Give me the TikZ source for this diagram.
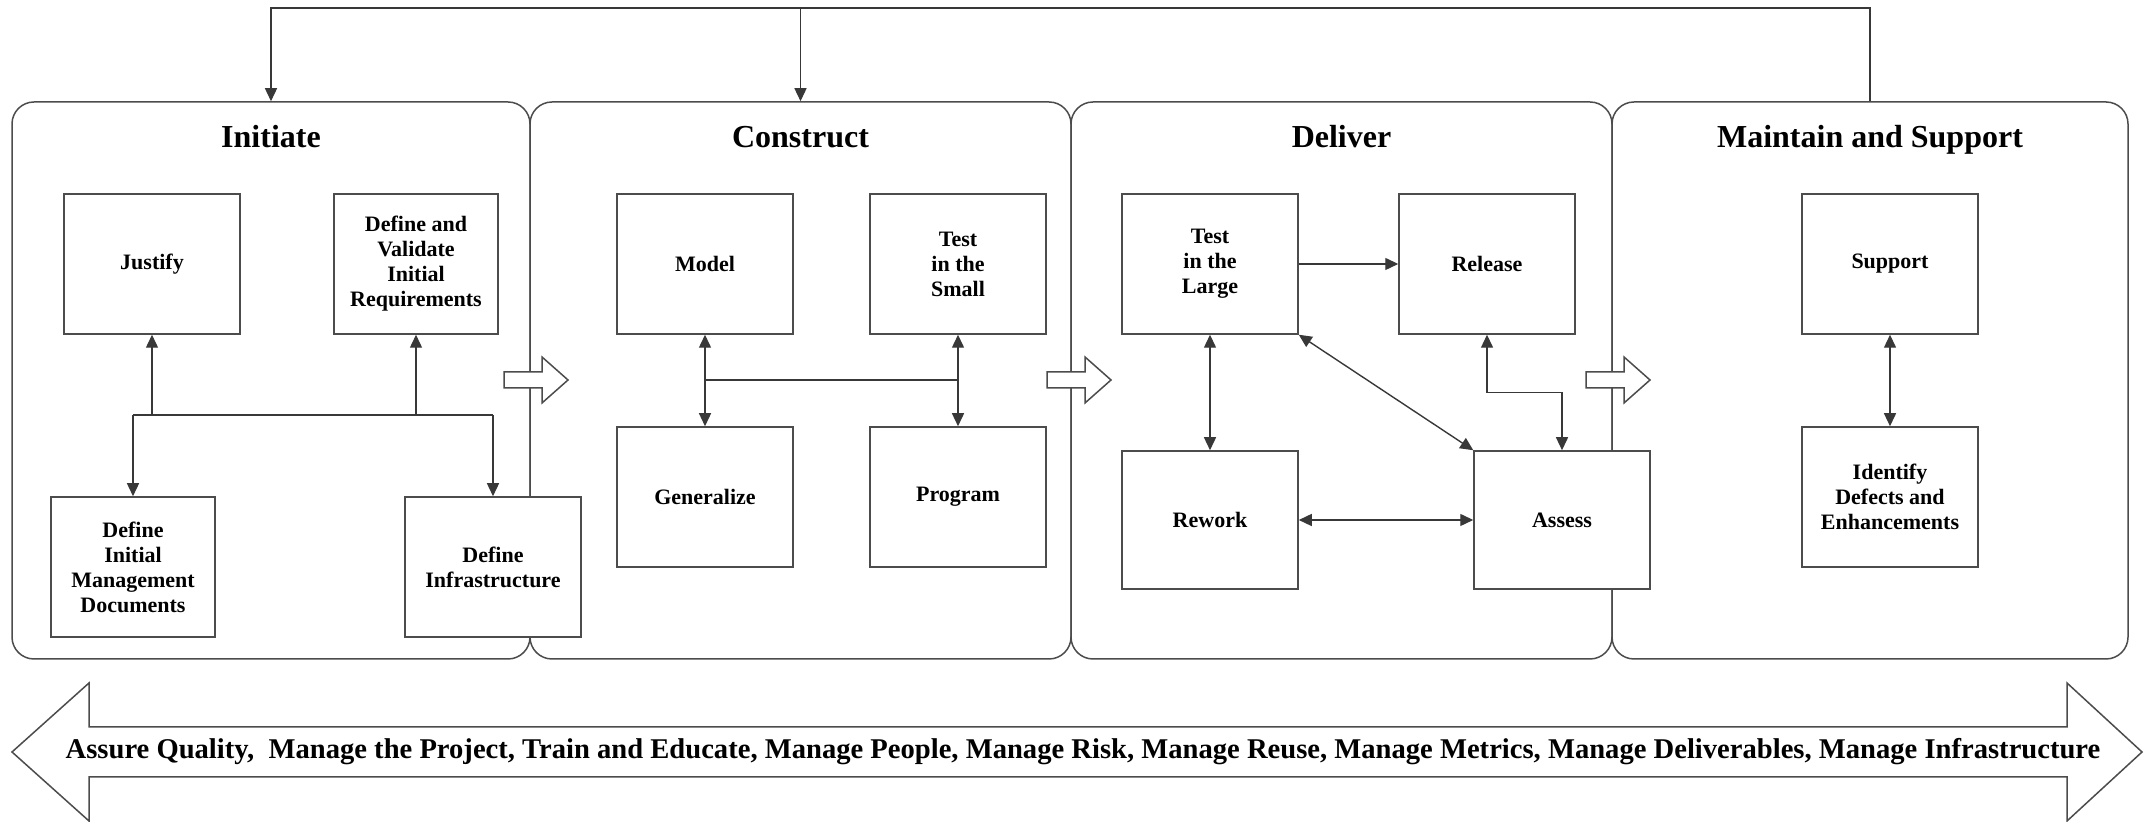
\documentclass[tikz,border=0pt]{standalone}
\usepackage{fontspec}
\setmainfont{Liberation Serif}
\usetikzlibrary{arrows.meta}
\begin{document}
\begin{tikzpicture}[x=0.5pt,y=0.5pt,
  ln/.style={draw=black!70, line width=0.75pt},
  phase/.style={ln, rounded corners=11pt, minimum height=278.5pt, inner sep=0pt},
  box/.style={ln, fill=white, minimum width=88pt, minimum height=70pt, inner sep=2pt, align=center, font=\fontsize{11}{12.5}\selectfont\bfseries},
  ttl/.style={font=\fontsize{16}{19}\selectfont\bfseries, anchor=base},
  con/.style={draw=black!78, line width=0.7pt},
  tip/.style={-{Triangle[length=6.5pt,width=6pt]}},
  dtip/.style={{Triangle[length=6.5pt,width=6pt]}-{Triangle[length=6.5pt,width=6pt]}},
  blk/.style={ln, fill=white, line join=miter}
]
\useasboundingbox (0,0) rectangle (2145,822);

% phase boxes
\node[phase, minimum width=259pt]   (pI) at (271,441.5) {};
\node[phase, minimum width=270.5pt] (pC) at (800.5,441.5) {};
\node[phase, minimum width=270.5pt] (pD) at (1341.5,441.5) {};
\node[phase, minimum width=258pt]   (pM) at (1870,441.5) {};

\node[ttl] (tI) at (271,674) {Initiate};
\node[ttl] (tC) at (800.5,674) {Construct};
\node[ttl] (tD) at (1341.5,674) {Deliver};
\node[ttl] (tM) at (1870,674) {Maintain and Support};

% hollow block arrows between phases
\draw[blk] (504,434) -- (542,434) -- (542,419) -- (568,442) -- (542,465) -- (542,450) -- (504,450) -- cycle;
\draw[blk] (1047,434) -- (1085,434) -- (1085,419) -- (1111,442) -- (1085,465) -- (1085,450) -- (1047,450) -- cycle;
\draw[blk] (1586,434) -- (1624,434) -- (1624,419) -- (1650,442) -- (1624,465) -- (1624,450) -- (1586,450) -- cycle;

% inner boxes
\node[box] (Justify) at (152,558) {Justify};
\node[box, minimum width=82pt] (DVIR) at (416,558) {Define and\\Validate\\Initial\\Requirements};
\node[box, minimum width=82pt] (DIMD) at (133,255) {Define\\Initial\\Management\\Documents};
\node[box] (DI) at (493,255) {Define\\Infrastructure};

\node[box] (Model) at (705,558) {Model};
\node[box] (TitS) at (958,558) {Test\\in the\\Small};
\node[box] (Generalize) at (705,325) {Generalize};
\node[box] (Program) at (958,325) {Program};

\node[box] (TitL) at (1210,558) {Test\\in the\\Large};
\node[box] (Release) at (1487,558) {Release};
\node[box, minimum height=69pt] (Rework) at (1210,302) {Rework};
\node[box, minimum height=69pt] (Assess) at (1562,302) {Assess};

\node[box] (Support) at (1890,558) {Support};
\node[box] (Identify) at (1890,325) {Identify\\Defects and\\Enhancements};

% Initiate connectors
\coordinate (jIL) at (133,407);
\coordinate (jIR) at (493,407);
\draw[con,tip] (Justify.south |- jIL) -- (Justify.south);
\draw[con,tip] (DVIR.south |- jIL) -- (DVIR.south);
\draw[con] (jIL) -- (jIR);
\draw[con,tip] (jIL) -- (DIMD.north);
\draw[con,tip] (jIR) -- (DI.north);

% Construct connectors
\coordinate (jC) at (0,442);
\draw[con,dtip] (Model.south) -- (Generalize.north);
\draw[con,dtip] (TitS.south) -- (Program.north);
\draw[con] (Model.south |- jC) -- (TitS.south |- jC);

% Deliver connectors
\draw[con,tip] (TitL.east) -- (Release.west);
\draw[con,dtip] (TitL.south) -- (Rework.north);
\draw[con,dtip] (TitL.south east) -- (Assess.north west);
\draw[con,dtip] (Release.south) -- ++(0,-58) -| (Assess.north);
\draw[con,dtip] (Rework.east) -- (Assess.west);

% Maintain connector
\draw[con,dtip] (Support.south) -- (Identify.north);

% feedback loop on top
\coordinate (fb) at (0,814);
\draw[con,tip] (pM.north) |- (pI.north |- fb) -- (pI.north);
\draw[con,tip] (pC.north |- fb) -- (pC.north);

% bottom double block arrow
\draw[blk] (12,70) -- (89,139) -- (89,95) -- (2067,95) -- (2067,139) -- (2142,70) -- (2067,1) -- (2067,45) -- (89,45) -- (89,1) -- cycle;
\node[font=\fontsize{14.3}{17}\selectfont\bfseries] (band) at (1083,70) {Assure Quality,\ \ Manage the Project, Train and Educate, Manage People, Manage Risk, Manage Reuse, Manage Metrics, Manage Deliverables, Manage Infrastructure};
\end{tikzpicture}
\end{document}
